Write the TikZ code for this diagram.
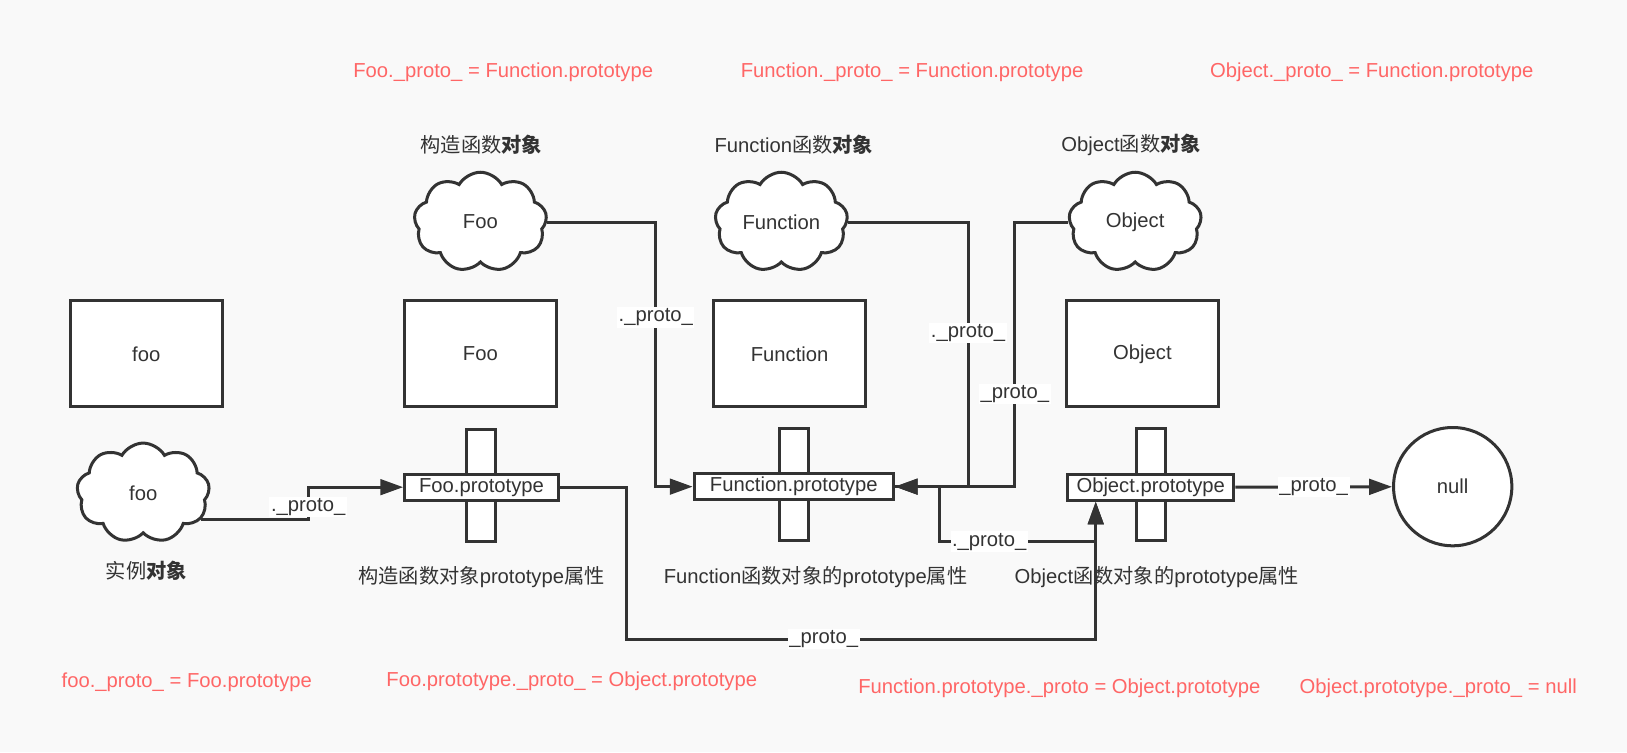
\documentclass[tikz,border=0pt]{standalone}
\usepackage{fontspec}
\setmainfont{Liberation Sans}
\newfontfamily\cjk{Noto Sans CJK SC}
\usetikzlibrary{shapes.symbols, arrows.meta}
\definecolor{ink}{HTML}{333333}
\definecolor{redtxt}{HTML}{FF6666}
\definecolor{bg}{HTML}{F9F9F9}
\begin{document}
\begin{tikzpicture}[x=1pt, y=-1pt,
 every node/.style={font=\fontsize{19.5}{23}\selectfont, text=ink},
 rectbox/.style={draw=ink, line width=2.9pt, fill=white, minimum width=146pt, minimum height=102pt, inner sep=0pt},
 cloudnode/.style={cloud, cloud puffs=9, cloud puff arc=120, aspect=1.34, draw=ink, line width=2.9pt, fill=white, minimum width=128pt, minimum height=96pt, inner sep=0pt},
 vbar/.style={draw=ink, line width=2.9pt, fill=white, minimum width=28pt, minimum height=108pt, inner sep=0pt},
 hbar/.style={draw=ink, line width=2.9pt, fill=white, minimum height=25pt, inner sep=0pt},
 circnode/.style={circle, draw=ink, line width=2.9pt, fill=white, minimum size=114pt, inner sep=0pt},
 redlbl/.style={text=redtxt},
 conn/.style={draw=ink, line width=2.9pt},
 arr/.style={conn, -{Triangle[length=22pt, width=15pt]}},
 lbl/.style={fill=white, inner sep=1.5pt, text=ink},
]
\fill[bg] (0,0) rectangle (1568,725);
\useasboundingbox (0,0) rectangle (1568,725);

% red annotations
\node[redlbl] (r1) at (485,70) {Foo.\_proto\_ = Function.prototype};
\node[redlbl] (r2) at (879,70) {Function.\_proto\_ = Function.prototype};
\node[redlbl] (r3) at (1322,70) {Object.\_proto\_ = Function.prototype};
\node[redlbl] (r4) at (180,658) {foo.\_proto\_ = Foo.prototype};
\node[redlbl] (r5) at (551,657) {Foo.prototype.\_proto\_ = Object.prototype};
\node[redlbl] (r6) at (1021,663) {Function.prototype.\_proto = Object.prototype};
\node[redlbl] (r7) at (1386,663) {Object.prototype.\_proto\_ = null};

% titles
\node (t1) at (464,140) {\cjk 构造函数{\bfseries 对象}};
\node (t2) at (765,140) {Function{\cjk 函数{\bfseries 对象}}};
\node (t3) at (1090,140) {Object{\cjk 函数{\bfseries 对象}}};
\node (t4) at (141,550) {\cjk 实例{\bfseries 对象}};
\node (t5) at (464,556) {{\cjk 构造函数对象}prototype{\cjk 属性}};
\node (t6) at (786,556) {Function{\cjk 函数对象的}prototype{\cjk 属性}};
\node (t7) at (1115,556) {Object{\cjk 函数对象的}prototype{\cjk 属性}};

% rectangles
\node[rectbox] (fooR) at (141,341) {foo};
\node[rectbox] (FooR) at (463,341) {Foo};
\node[rectbox] (FnR) at (761,341) {Function};
\node[rectbox] (ObjR) at (1101,341) {Object};

% clouds
\node[cloudnode] (fooC) at (138,475) {foo};
\node[cloudnode] (FooC) at (463,214) {Foo};
\node[cloudnode] (FnC) at (753,214) {Function};
\node[cloudnode] (ObjC) at (1094,214) {Object};

% crosses
\node[vbar] (FooPv) at (464,467.5) {};
\node[hbar, minimum width=148pt] (FooP) at (464,469.5) {Foo.prototype};
\node[vbar] (FnPv) at (765,467) {};
\node[hbar, minimum width=192pt] (FnP) at (765,469) {Function.prototype};
\node[vbar] (ObjPv) at (1109,467) {};
\node[hbar, minimum width=160pt] (ObjP) at (1109,469.5) {Object.prototype};

% null
\node[circnode] (null) at (1400,469) {null};

% bend points
\coordinate (b1) at (297,469.5);
\coordinate (b2) at (632,469);
\coordinate (b3) at (933,469);
\coordinate (b4) at (978,469);
\coordinate (b5a) at (905,469);
\coordinate (b5b) at (1056,522);
\coordinate (oin) at (b5b |- ObjP.south);
\coordinate (b6) at (604,616);

% connectors
\draw[arr] (fooC.-25) -| node[lbl,pos=0.7]{.\_proto\_} (b1) -- (FooP.west);
\draw[arr] (FooC.east) -| node[lbl,pos=0.68]{.\_proto\_} (b2) -- (FnP.west);
\draw[arr] (FnC.east) -| node[lbl,pos=0.71]{.\_proto\_} (b3) -- (FnP.east);
\draw[arr] (ObjC.west) -| node[lbl,pos=0.825]{\_proto\_} (b4) -- (FnP.east);
\draw[arr] (FnP.east) -- (b5a) |- node[lbl,pos=0.66]{.\_proto\_} (b5b) -- (oin);
\draw[arr] (FooP.east) -| (b6) -| node[lbl,pos=0.21]{\_proto\_} (oin);
\draw[arr] (ObjP.east) -- node[lbl]{\_proto\_} (null);
\end{tikzpicture}
\end{document}
